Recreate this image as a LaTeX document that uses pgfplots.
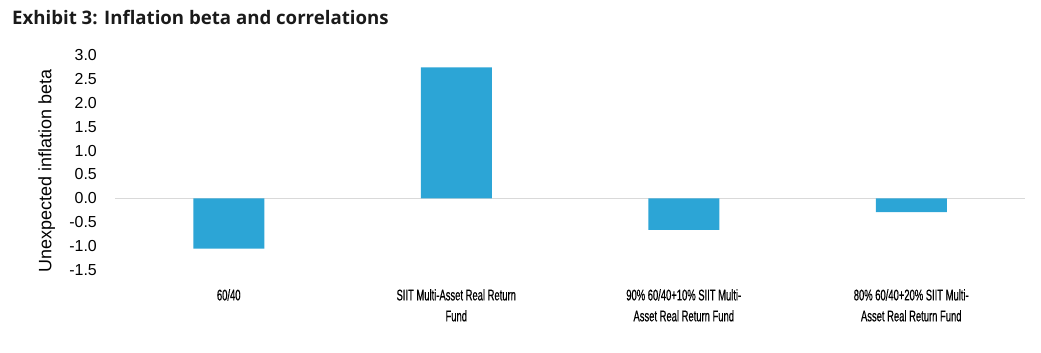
\documentclass[border=0pt]{standalone}
\usepackage{pgfplots}
\pgfplotsset{compat=1.18}
\usepackage{fontspec}
\setmainfont{Liberation Sans}
\newfontfamily\titlefont{Open Sans}
\newfontfamily\condfont[FakeStretch=0.61, FakeBold=0.5]{Liberation Sans}
\definecolor{barblue}{HTML}{2CA5D6}
\definecolor{zerogray}{HTML}{D9D9D9}
\definecolor{txt}{HTML}{1A1A1A}
\begin{document}
\begin{tikzpicture}[x=1bp,y=1bp]
\path[use as bounding box] (0,0) rectangle (1041,352);
\node[anchor=west, inner sep=0pt, text=txt, font=\titlefont\bfseries\fontsize{18.7}{20}\selectfont] at (12,335) {Exhibit 3: Inflation beta and correlations};
\begin{axis}[
  at={(115bp,82bp)}, anchor=south west,
  scale only axis, width=910bp, height=215bp,
  xmin=-0.5, xmax=3.5, ymin=-1.5, ymax=3.0,
  ybar, bar width=71bp,
  axis line style={draw=none},
  major tick length=0pt,
  ytick={-1.5,-1.0,-0.5,0,0.5,1.0,1.5,2.0,2.5,3.0},
  yticklabel style={/pgf/number format/fixed, /pgf/number format/fixed zerofill, /pgf/number format/precision=1, /pgf/number format/assume math mode=true},
  yticklabel style={inner sep=0pt, anchor=east, xshift=-18bp, font=\fontsize{16}{18}\selectfont},
  xtick={0,1,2,3},
  xticklabels={{60/40},{SIIT Multi-Asset Real Return\\Fund},{90\% 60/40+10\% SIIT Multi-\\Asset Real Return Fund},{80\% 60/40+20\% SIIT Multi-\\Asset Real Return Fund}},
  xticklabel style={align=center, anchor=north, inner sep=0pt, yshift=-19bp, font=\condfont\fontsize{15.5}{21}\selectfont},
  ylabel={Unexpected inflation beta},
  ylabel style={at={(axis description cs:-0.075,0.46)}, anchor=center, font=\fontsize{18}{20}\selectfont},
  extra y ticks={0}, extra y tick labels={},
  extra y tick style={grid=major, major grid style={zerogray, line width=1.3bp}},
]
\addplot[fill=barblue, draw=none] coordinates {(0,-1.05) (1,2.74) (2,-0.66) (3,-0.29)};
\end{axis}
\end{tikzpicture}
\end{document}
